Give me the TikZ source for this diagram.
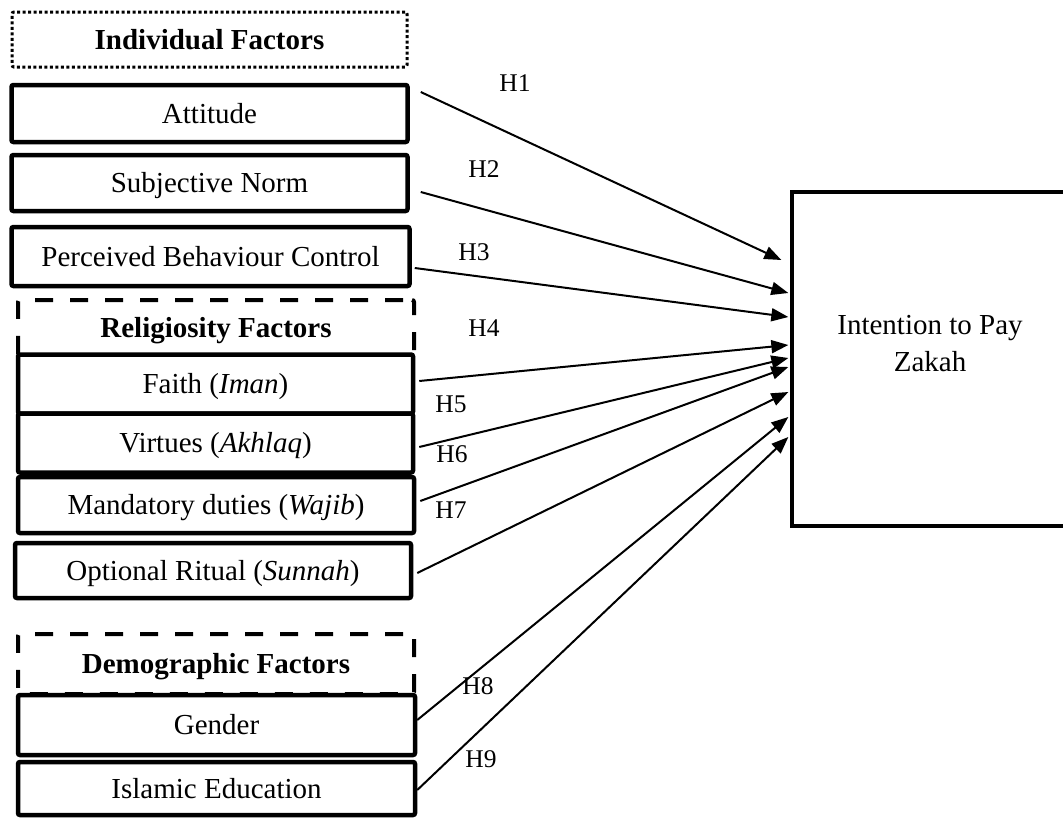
\documentclass[tikz,border=0pt]{standalone}
\usepackage{fontspec}
\setmainfont{Liberation Serif}
\usetikzlibrary{arrows.meta,calc}
\begin{document}
\begin{tikzpicture}[x=1pt,y=-1pt,
  fbox/.style={draw,line width=4.5pt,rounded corners=2pt,fill=white,minimum width=396pt,
    minimum height=57pt,inner sep=0pt,text height=19pt,text depth=0pt,
    font=\fontsize{29}{35}\selectfont},
  grpdot/.style={draw,line width=3pt,dash pattern=on 3pt off 2.5pt,rounded corners=2pt,
    minimum width=395pt,minimum height=55pt,inner sep=0pt,text height=19pt,text depth=0pt,
    font=\fontsize{29}{35}\selectfont\bfseries},
  grpdash/.style={draw,line width=4pt,dash pattern=on 18pt off 17pt,dash phase=-9pt,rounded corners=2pt,
    minimum width=396pt,minimum height=56pt,inner sep=0pt,text height=19pt,text depth=0pt,
    font=\fontsize{29}{35}\selectfont\bfseries},
  hlab/.style={inner sep=0pt,font=\fontsize{25.5}{30}\selectfont},
  arr/.style={line width=2pt,-{Triangle[length=17pt,width=13pt]}},
]
\useasboundingbox (0,0) rectangle (1063,817);

% group headings
\node[grpdot] (ind) at (209.5,39.5) {Individual Factors};
\node[grpdash] (rel) at (216,328) {Religiosity Factors};
\node[grpdash, minimum height=60pt] (dem) at (216,664) {Demographic Factors};

% factor boxes
\node[fbox] (att) at (209.5,113.5) {Attitude};
\node[fbox, minimum height=56pt] (sn) at (209.5,183) {Subjective Norm};
\node[fbox, minimum width=398pt, minimum height=59pt] (pbc) at (210.5,256.5) {Perceived Behaviour Control};
\node[fbox, minimum width=395pt, minimum height=59pt] (faith) at (215.5,384) {Faith (\textit{Iman})};
\node[fbox, minimum width=395pt, minimum height=59pt] (virt) at (215.5,443) {Virtues (\textit{Akhlaq})};
\node[fbox, minimum height=56pt] (mand) at (216,505) {Mandatory duties (\textit{Wajib})};
\node[fbox, minimum height=55pt] (opt) at (213,570.5) {Optional Ritual (\textit{Sunnah})};
\node[fbox, minimum width=397pt, minimum height=60pt] (gen) at (216.5,725) {Gender};
\node[fbox, minimum width=397pt, minimum height=53pt] (isl) at (216.5,788.5) {Islamic Education};

% outcome box
\node[draw,line width=3.3pt,minimum width=276pt,minimum height=334pt,inner sep=0pt] (int) at (930,359) {};
\node[align=center,inner sep=0pt,font=\fontsize{29}{37}\selectfont] (intl) at ([yshift=15pt]int.center) {Intention to Pay\\Zakah};

% connectors
\draw[arr] ([shift={(11,-21.5)}]att.east) -- ([shift={(-9,-99)}]int.west);
\draw[arr] ([shift={(11,9)}]sn.east) -- ([shift={(-2,-66)}]int.west);
\draw[arr] ([shift={(3,11.5)}]pbc.east) -- ([shift={(-2,-42)}]int.west);
\draw[arr] ([shift={(4,-3)}]faith.east) -- ([shift={(-2,-14)}]int.west);
\draw[arr] ([shift={(4,4)}]virt.east) -- ([shift={(-2,-1)}]int.west);
\draw[arr] ([shift={(4,-4)}]mand.east) -- ([shift={(-2,8)}]int.west);
\draw[arr] ([shift={(4,2.5)}]opt.east) -- ([shift={(-2,33)}]int.west);
\draw[arr] ([shift={(0,-5)}]gen.east) -- ([shift={(-2,58)}]int.west);
\draw[arr] ([shift={(0,1.5)}]isl.east) -- ([shift={(-2,78)}]int.west);

% labels
\node[hlab] (h1) at (515,83.5) {H1};
\node[hlab] (h2) at (484,169) {H2};
\node[hlab] (h3) at (474,252) {H3};
\node[hlab] (h4) at (484,328) {H4};
\node[hlab] (h5) at (451,404) {H5};
\node[hlab] (h6) at (452,454) {H6};
\node[hlab] (h7) at (451,510) {H7};
\node[hlab] (h8) at (478,686) {H8};
\node[hlab] (h9) at (481,759) {H9};
\end{tikzpicture}
\end{document}
